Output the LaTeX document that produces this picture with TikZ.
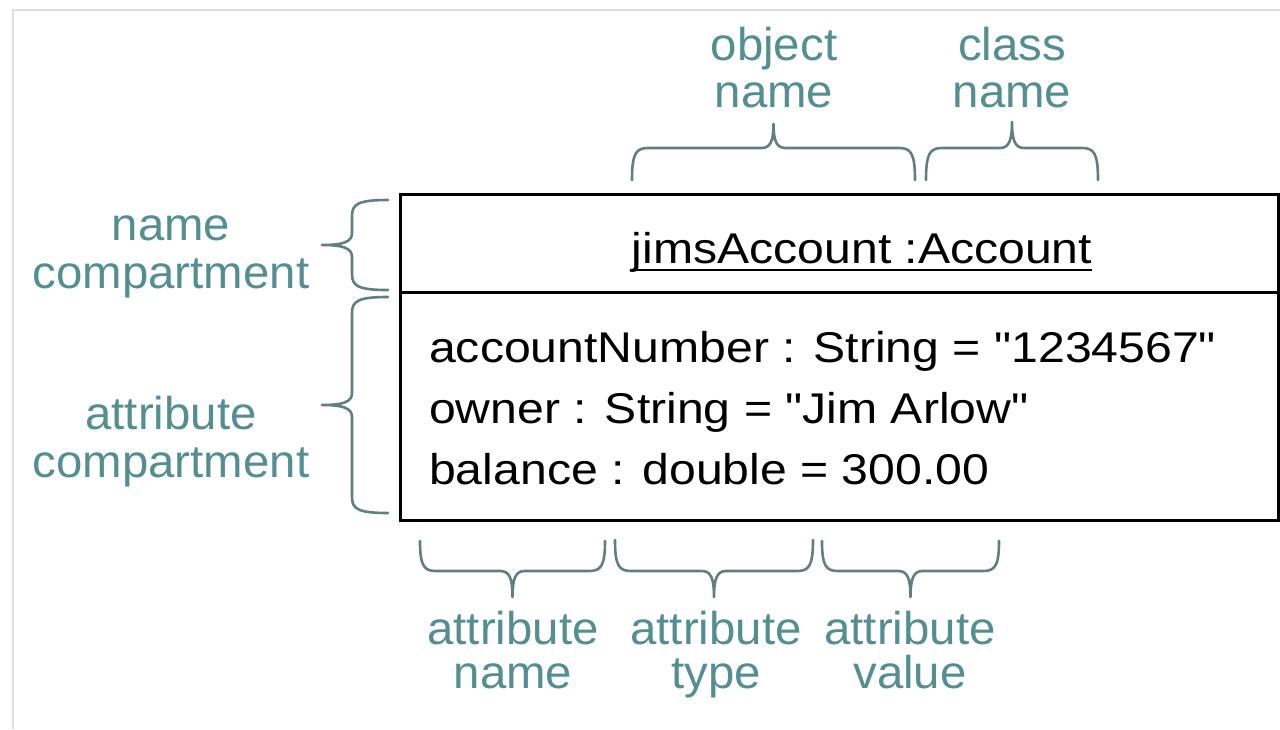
\documentclass[tikz,border=0pt]{standalone}
\usepackage{fontspec}
\setmainfont{Liberation Sans}[FakeStretch=1.12, Ligatures=TeXOff]
\newfontfamily\lblfont{Liberation Sans}[FakeStretch=1.03]
\definecolor{labelc}{RGB}{84,142,146}
\definecolor{bracec}{RGB}{96,128,128}
\definecolor{framec}{RGB}{222,222,222}
% vertical brace, tip pointing left: xe, y1, y2, xs (spine), xt (tip)
\newcommand\bracevleft[5]{%
  \draw[bracestyle] (#1,#2) .. controls ({#1+0.83*(#4-#1)},#2) and (#4,{#2+4}) .. (#4,{#2+16})
    -- (#4,{(#2+#3)/2-12}) .. controls (#4,{(#2+#3)/2-3}) and ({#4+0.3*(#5-#4)},{(#2+#3)/2}) .. (#5,{(#2+#3)/2})
    .. controls ({#4+0.3*(#5-#4)},{(#2+#3)/2}) and (#4,{(#2+#3)/2+3}) .. (#4,{(#2+#3)/2+12})
    -- (#4,{#3-16}) .. controls (#4,{#3-4}) and ({#1+0.83*(#4-#1)},#3) .. (#1,#3);}
% horizontal brace: x1, x2, ye (ends), ys (spine), yt (tip)
\newcommand\braceh[5]{%
  \draw[bracestyle] (#1,#3) .. controls (#1,{#3+0.83*(#4-#3)}) and ({#1+4},#4) .. ({#1+16},#4)
    -- ({(#1+#2)/2-12},#4) .. controls ({(#1+#2)/2-3},#4) and ({(#1+#2)/2},{#4+0.3*(#5-#4)}) .. ({(#1+#2)/2},#5)
    .. controls ({(#1+#2)/2},{#4+0.3*(#5-#4)}) and ({(#1+#2)/2+3},#4) .. ({(#1+#2)/2+12},#4)
    -- ({#2-16},#4) .. controls ({#2-4},#4) and (#2,{#3+0.83*(#4-#3)}) .. (#2,#3);}
\tikzset{
  bracestyle/.style={draw=bracec, line width=2.6pt, line cap=round, line join=round},
  lbl/.style={text=labelc, align=center, inner sep=0pt, anchor=base},
  lblfontA/.style={font=\lblfont\fontsize{46}{48}\selectfont},
  lblfontB/.style={font=\lblfont\fontsize{46}{47}\selectfont},
  lblfontC/.style={font=\lblfont\fontsize{46}{44}\selectfont},
  compbox/.style={draw=black, line width=3pt, minimum width=878pt, inner sep=0pt, outer sep=0pt, anchor=north west},
  attrtext/.style={font=\fontsize{43}{43}\selectfont, inner sep=0pt, anchor=base west},
}
\begin{document}
\begin{tikzpicture}[x=1pt,y=-1pt]
\useasboundingbox (0,0) rectangle (1280,729);
\fill[white] (0,0) rectangle (1280,729);
\draw[framec, line width=2pt] (13,729) -- (13,10) -- (1280,10);
% object box
\node[compbox, minimum height=98pt] (namecomp) at (400,194) {};
\node[compbox, minimum height=228pt] (attrcomp) at (400,292) {};
\node[font=\fontsize{43}{43}\selectfont, inner sep=0pt, anchor=base] (title) at (862,263) {jimsAccount :Account};
\draw[line width=2.5pt] ([yshift=-7pt]title.base west) -- ([yshift=-7pt]title.base east);
\node[attrtext] (attr1) at (429,362) {accountNumber : String = "1234567"};
\node[attrtext] (attr2) at (429,423) {owner : String = "Jim Arlow"};
\node[attrtext] (attr3) at (429,484) {balance : double = 300.00};
% left labels and braces (anchor = baseline of the last line)
\node[lbl, lblfontA] (lblname) at (171,288) {name\\compartment};
\node[lbl, lblfontA] (lblattr) at (171,477) {attribute\\compartment};
\bracevleft{388}{200}{290}{352}{322}
\bracevleft{388}{297}{513}{352}{322}
% top labels and braces
\node[lbl, lblfontB] (lblobj) at (774,107) {object\\name};
\node[lbl, lblfontB] (lblclass) at (1012,107) {class\\name};
\braceh{632}{915}{180}{148}{124}
\braceh{926}{1098}{180}{148}{122}
% bottom labels and braces
\node[lbl, lblfontC] (lblaname) at (513,688) {attribute\\name};
\node[lbl, lblfontC] (lblatype) at (716,688) {attribute\\type};
\node[lbl, lblfontC] (lblavalue) at (910,688) {attribute\\value};
\braceh{420}{605}{541}{571}{597}
\braceh{615}{813}{540}{571}{597}
\braceh{822}{999}{541}{571}{597}
\end{tikzpicture}
\end{document}
